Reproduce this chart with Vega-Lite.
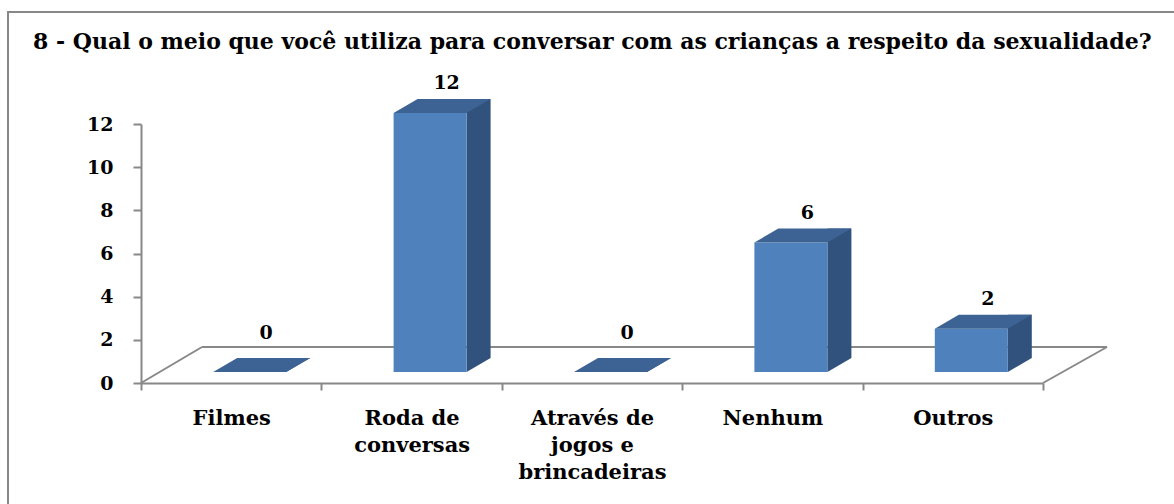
{
  "$schema": "https://vega.github.io/schema/vega-lite/v6.json",
  "width": 902,
  "height": 259,
  "autosize": {"type": "none"},
  "padding": {"left": 141, "top": 124, "right": 131, "bottom": 121},
  "background": "white",
  "config": {"view": {"stroke": null}, "font": "DejaVu Serif"},
  "title": {
    "text": "8 - Qual o meio que você utiliza para conversar com as crianças a respeito da sexualidade?",
    "anchor": "start",
    "frame": "group",
    "font": "DejaVu Serif",
    "fontSize": 22,
    "fontWeight": "bold",
    "color": "#000000",
    "baseline": "alphabetic",
    "dx": -108,
    "dy": 136,
    "offset": 76
  },
  "layer": [
    {
      "data": {"values": [{}]},
      "encoding": {
        "x": {"datum": 0, "type": "quantitative", "scale": {"domain": [0, 5], "nice": false}, "axis": null},
        "y": {"datum": 0, "type": "quantitative", "title": null}
      },
      "layer": [
        {
          "mark": {"type": "rect", "fillOpacity": 0, "stroke": "#888888", "strokeWidth": 2, "xOffset": -133, "x2Offset": 400, "yOffset": -112, "y2Offset": 400},
          "encoding": {
            "x2": {"datum": 5},
            "y": {"datum": 12, "type": "quantitative", "title": null},
            "y2": {"datum": 0}
          }
        },
        {
          "mark": {"type": "rule", "color": "#888888", "strokeWidth": 2, "xOffset": 61, "x2Offset": 64, "yOffset": -36},
          "encoding": {"x2": {"datum": 5}}
        },
        {
          "mark": {"type": "rule", "color": "#888888", "strokeWidth": 2, "x2Offset": 61, "y2Offset": -36},
          "encoding": {"x2": {"datum": 0}, "y2": {"datum": 0}}
        },
        {
          "mark": {"type": "rule", "color": "#888888", "strokeWidth": 2, "x2Offset": 64, "y2Offset": -36},
          "encoding": {
            "x": {"datum": 5, "type": "quantitative", "scale": {"domain": [0, 5], "nice": false}, "axis": null},
            "x2": {"datum": 5},
            "y2": {"datum": 0}
          }
        }
      ]
    },
    {
      "data": {
        "values": [
          {"categoria": "Filmes", "valor": 0},
          {"categoria": "Roda de conversas", "valor": 12},
          {"categoria": "Através de jogos e brincadeiras", "valor": 0},
          {"categoria": "Nenhum", "valor": 6},
          {"categoria": "Outros", "valor": 2}
        ]
      },
      "encoding": {
        "x": {
          "field": "categoria",
          "type": "nominal",
          "sort": null,
          "scale": {"paddingInner": 0, "paddingOuter": 0},
          "axis": {
            "title": null,
            "labelAngle": 0,
            "labelFont": "DejaVu Serif",
            "labelFontWeight": "bold",
            "labelFontSize": 21,
            "labelColor": "#000000",
            "labelPadding": 17,
            "labelLineHeight": 27,
            "labelBaseline": "top",
            "domainColor": "#888888",
            "domainWidth": 2,
            "tickColor": "#888888",
            "tickWidth": 2,
            "tickSize": 7,
            "tickBand": "extent",
            "labelExpr": "datum.label == 'Roda de conversas' ? ['Roda de', 'conversas'] : datum.label == 'Através de jogos e brincadeiras' ? ['Através de', 'jogos e', 'brincadeiras'] : datum.label"
          }
        },
        "y": {
          "field": "valor",
          "type": "quantitative",
          "scale": {"domain": [0, 12], "nice": false},
          "axis": {
            "title": null,
            "values": [0, 2, 4, 6, 8, 10, 12],
            "grid": false,
            "labelFont": "DejaVu Serif",
            "labelFontWeight": "bold",
            "labelFontSize": 19,
            "labelColor": "#000000",
            "labelPadding": 20,
            "domainColor": "#888888",
            "domainWidth": 2,
            "tickColor": "#888888",
            "tickWidth": 2,
            "tickSize": 8
          }
        }
      },
      "layer": [
        {
          "mark": {"type": "bar", "width": 24, "xOffset": 67, "yOffset": -25, "y2Offset": -25, "color": "#31527C"},
          "encoding": {"y2": {"datum": 0}}
        },
        {
          "mark": {"type": "point", "shape": "M-1,-0.5833L-1,0.5833L1,-0.5833Z", "size": 576, "filled": true, "opacity": 1, "strokeWidth": 0, "xOffset": 67, "yOffset": -18, "color": "#31527C"},
          "encoding": {"y": {"datum": 0, "type": "quantitative", "title": null}}
        },
        {
          "mark": {"type": "bar", "width": 73, "xOffset": 18.5, "yOffset": -11, "y2Offset": -11, "color": "#4F81BD"},
          "encoding": {"y2": {"datum": 0}}
        },
        {
          "mark": {"type": "point", "shape": "M-1,0.1443L-0.5052,-0.1443L1,-0.1443L0.5052,0.1443Z", "size": 9409, "filled": true, "opacity": 1, "strokeWidth": 0, "xOffset": 30.5, "yOffset": -18, "color": "#3C6393"}
        },
        {
          "transform": [{"filter": "datum.valor > 0"}],
          "mark": {"type": "text", "font": "DejaVu Serif", "fontWeight": "bold", "fontSize": 19, "color": "#000000", "baseline": "alphabetic", "xOffset": 35, "yOffset": -35},
          "encoding": {"text": {"field": "valor", "type": "quantitative"}}
        },
        {
          "transform": [{"filter": "datum.valor == 0"}],
          "mark": {"type": "text", "font": "DejaVu Serif", "fontWeight": "bold", "fontSize": 19, "color": "#000000", "baseline": "alphabetic", "xOffset": 35, "yOffset": -44},
          "encoding": {"text": {"field": "valor", "type": "quantitative"}}
        }
      ]
    }
  ],
  "resolve": {"scale": {"x": "independent"}}
}
